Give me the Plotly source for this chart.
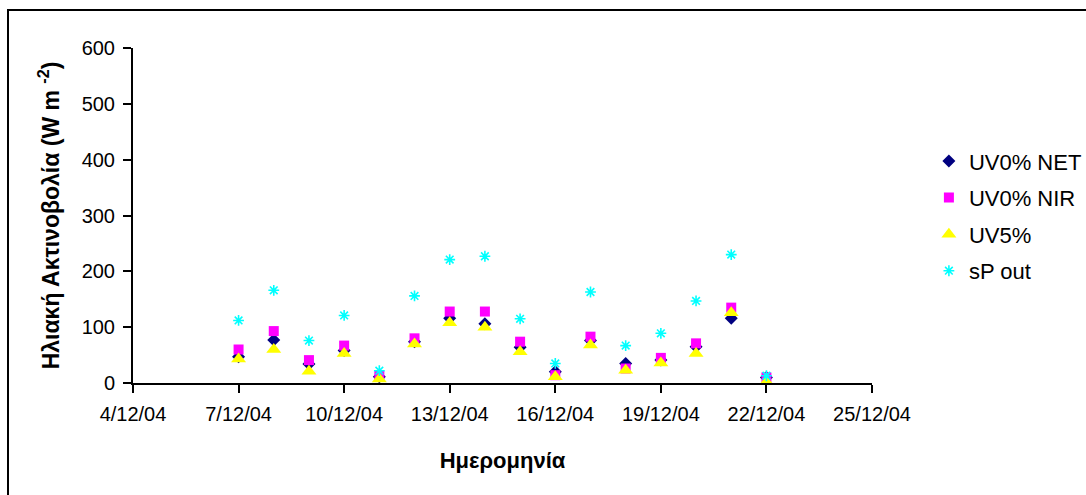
import plotly.graph_objects as go

dates = ["2004-12-07", "2004-12-08", "2004-12-09", "2004-12-10", "2004-12-11", "2004-12-12",
         "2004-12-13", "2004-12-14", "2004-12-15", "2004-12-16", "2004-12-17", "2004-12-18",
         "2004-12-19", "2004-12-20", "2004-12-21", "2004-12-22"]
uv0_net = [47, 77, 34, 58, 11, 74, 116, 106, 64, 20, 76, 35, 41, 65, 116, 10]
uv0_nir = [60, 93, 41, 67, 13, 80, 128, 128, 74, 14, 83, 26, 45, 71, 135, 10]
uv5 = [43, 60, 21, 53, 7, 70, 108, 100, 56, 11, 68, 23, 36, 53, 126, 2]
sp_out = [112, 166, 76, 121, 22, 156, 221, 227, 115, 35, 163, 67, 89, 147, 230, 13]

series = [
    ("UV0% NET", uv0_net, dict(symbol="diamond", color="#000080", size=10)),
    ("UV0% NIR", uv0_nir, dict(symbol="square", color="#FF00FF", size=10)),
    ("UV5%", uv5, dict(symbol="triangle-up", color="#FFFF00", size=13)),
    ("sP out", sp_out, dict(symbol="asterisk-open", color="#00FFFF", size=9,
                            line=dict(color="#00FFFF", width=1.6))),
]

fig = go.Figure()
for i, (name, vals, mk) in enumerate(series):
    fig.add_trace(go.Scatter(x=dates, y=vals, mode="markers", name=name,
                             marker=mk, legendgroup=str(i)))

font = "Liberation Sans, Arial, sans-serif"
fig.update_layout(
    width=1086, height=495,
    margin=dict(l=133, r=214, t=48, b=112, autoexpand=False),
    paper_bgcolor="white", plot_bgcolor="white",
    font=dict(family=font, size=20, color="black"),
    showlegend=True,
    legend=dict(x=1.077, y=0.725, xanchor="left", yanchor="top",
                font=dict(size=22), tracegroupgap=5, itemwidth=30,
                bgcolor="rgba(0,0,0,0)"),
    xaxis=dict(type="date", range=["2004-12-04", "2004-12-25"],
               tick0="2004-12-04", dtick=3 * 86400000, tickformat="%-d/%m/%y",
               showline=True, linecolor="black", linewidth=2,
               ticks="outside", ticklen=8, tickwidth=2, tickcolor="black",
               ticklabelstandoff=4,
               showgrid=False, zeroline=False,
               title=dict(text="<b>Ημερομηνία</b>", font=dict(size=22), standoff=29)),
    yaxis=dict(range=[0, 600], dtick=100,
               showline=True, linecolor="black", linewidth=2,
               ticks="outside", ticklen=8, tickwidth=2, tickcolor="black",
               ticklabelstandoff=4,
               showgrid=False, zeroline=False,
               title=dict(text="<b>Ηλιακή Ακτινοβολία (W m <sup>-2</sup>)</b>",
                          font=dict(size=23), standoff=16)),
    shapes=[dict(type="rect", xref="paper", yref="paper",
                 x0=(8 - 133) / 739, x1=(1110 - 133) / 739,
                 y0=(383 - 520) / 335, y1=(383 - 10) / 335,
                 line=dict(color="black", width=2), layer="below")],
)

fig.write_html("out.html")
